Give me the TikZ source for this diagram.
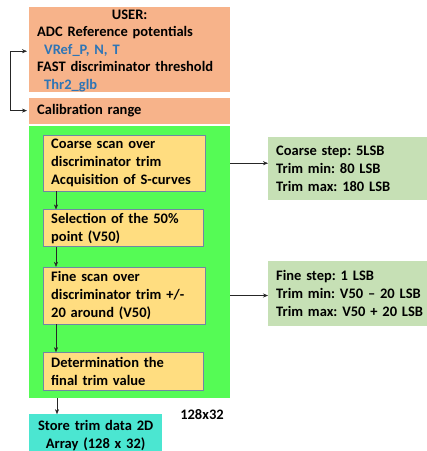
\documentclass[tikz,border=0pt]{standalone}
\usepackage{fontspec}
\setmainfont{Carlito}
\usetikzlibrary{arrows.meta,positioning}
\definecolor{usr}{HTML}{F7B38A}
\definecolor{grn}{HTML}{55FB55}
\definecolor{ylw}{HTML}{FFDD80}
\definecolor{ylwb}{HTML}{6F87A3}
\definecolor{cyn}{HTML}{4BE6D1}
\definecolor{lgr}{HTML}{C6E0B5}
\definecolor{blu}{HTML}{2E75B6}
\newcommand{\pname}[1]{\textcolor{blu}{#1}}
\tikzset{
  txt/.style={font=\bfseries\fontsize{14.5}{18}\selectfont\frenchspacing,align=left,inner xsep=8pt,inner ysep=0pt,anchor=north west},
  ubox/.style={txt,fill=usr,text width=185pt},
  ybox/.style={txt,fill=ylw,draw=ylwb,thin},
  ibox/.style={txt,fill=lgr,text width=152pt},
  ar/.style={-{Stealth[length=5pt,width=4pt]},thin,draw=black!85},
}
\begin{document}
\begin{tikzpicture}[x=1pt,y=-1pt,node distance=18pt]
\useasboundingbox (0,0) rectangle (427,451);
\node[ubox,minimum height=85pt,font=\bfseries\fontsize{14.5}{17.5}\selectfont\frenchspacing] (user) at (29,7) {\rule{0pt}{11.5pt}\makebox[\linewidth]{USER:}\\
  ADC Reference potentials\\
  \hspace*{7pt}\pname{VRef\_P, N, T}\\
  FAST discriminator threshold\\
  \hspace*{7pt}\pname{Thr2\_glb}};
\node[ubox,minimum height=26pt,below=5pt of user.south west,anchor=north west] (calib) {Calibration range};
\node[fill=grn,minimum width=201pt,minimum height=272pt,inner sep=0pt,below=2pt of calib.south west,anchor=north west] (scan) {};
\node[ybox,text width=146pt,minimum height=56pt] (coarse) at (43,135) {Coarse scan over\\discriminator trim\\Acquisition of S-curves};
\node[ybox,text width=144pt,minimum height=37pt,below=of coarse.south west,anchor=north west] (sel) {Selection of the 50\%\\point (V50)};
\node[ybox,text width=146pt,minimum height=57pt,below=20pt of sel.south west,anchor=north west] (fine) {Fine scan over\\discriminator trim +/-\\20 around (V50)};
\node[ybox,text width=144pt,minimum height=38pt,below=28pt of fine.south west,anchor=north west] (final) {Determination the\\final trim value};
\node[txt,fill=cyn,align=center,text width=117pt,minimum height=43pt,below=16pt of scan.south west,anchor=north west] (store) {Store trim data 2D\\Array (128 x 32)};
\node[txt,anchor=center,inner sep=0pt] (dim) at (202,415) {128x32};
\node[ibox,minimum height=63pt] (cinfo) at (268,137) {Coarse step: 5LSB\\Trim min: 80 LSB\\Trim max: 180 LSB};
\node[ibox,minimum height=65pt] (finfo) at (268,261) {Fine step: 1 LSB\\Trim min: V50 -- 20 LSB\\Trim max: V50 + 20 LSB};
% flow
\draw[ar] ([xshift=13pt]coarse.south west) -- ([xshift=13pt]sel.north west);
\draw[ar] ([xshift=13pt]sel.south west) -- ([xshift=13pt]fine.north west);
\draw[ar] ([xshift=13pt]fine.south west) -- ([xshift=13pt]final.north west);
\draw[ar] ([xshift=28pt]scan.south west) -- ([xshift=28pt]store.north west);
\draw[ar] (scan.east |- coarse.east) -- (cinfo.west |- coarse.east);
\draw[ar] (scan.east |- fine.east) -- (finfo.west |- fine.east);
% loop on the left
\draw[ar,{Stealth[length=5pt,width=4pt]}-{Stealth[length=5pt,width=4pt]}] ([xshift=-2pt,yshift=-1.5pt]user.west) -- ++(-17,0) |- ([xshift=-2pt]calib.west);
\end{tikzpicture}
\end{document}
